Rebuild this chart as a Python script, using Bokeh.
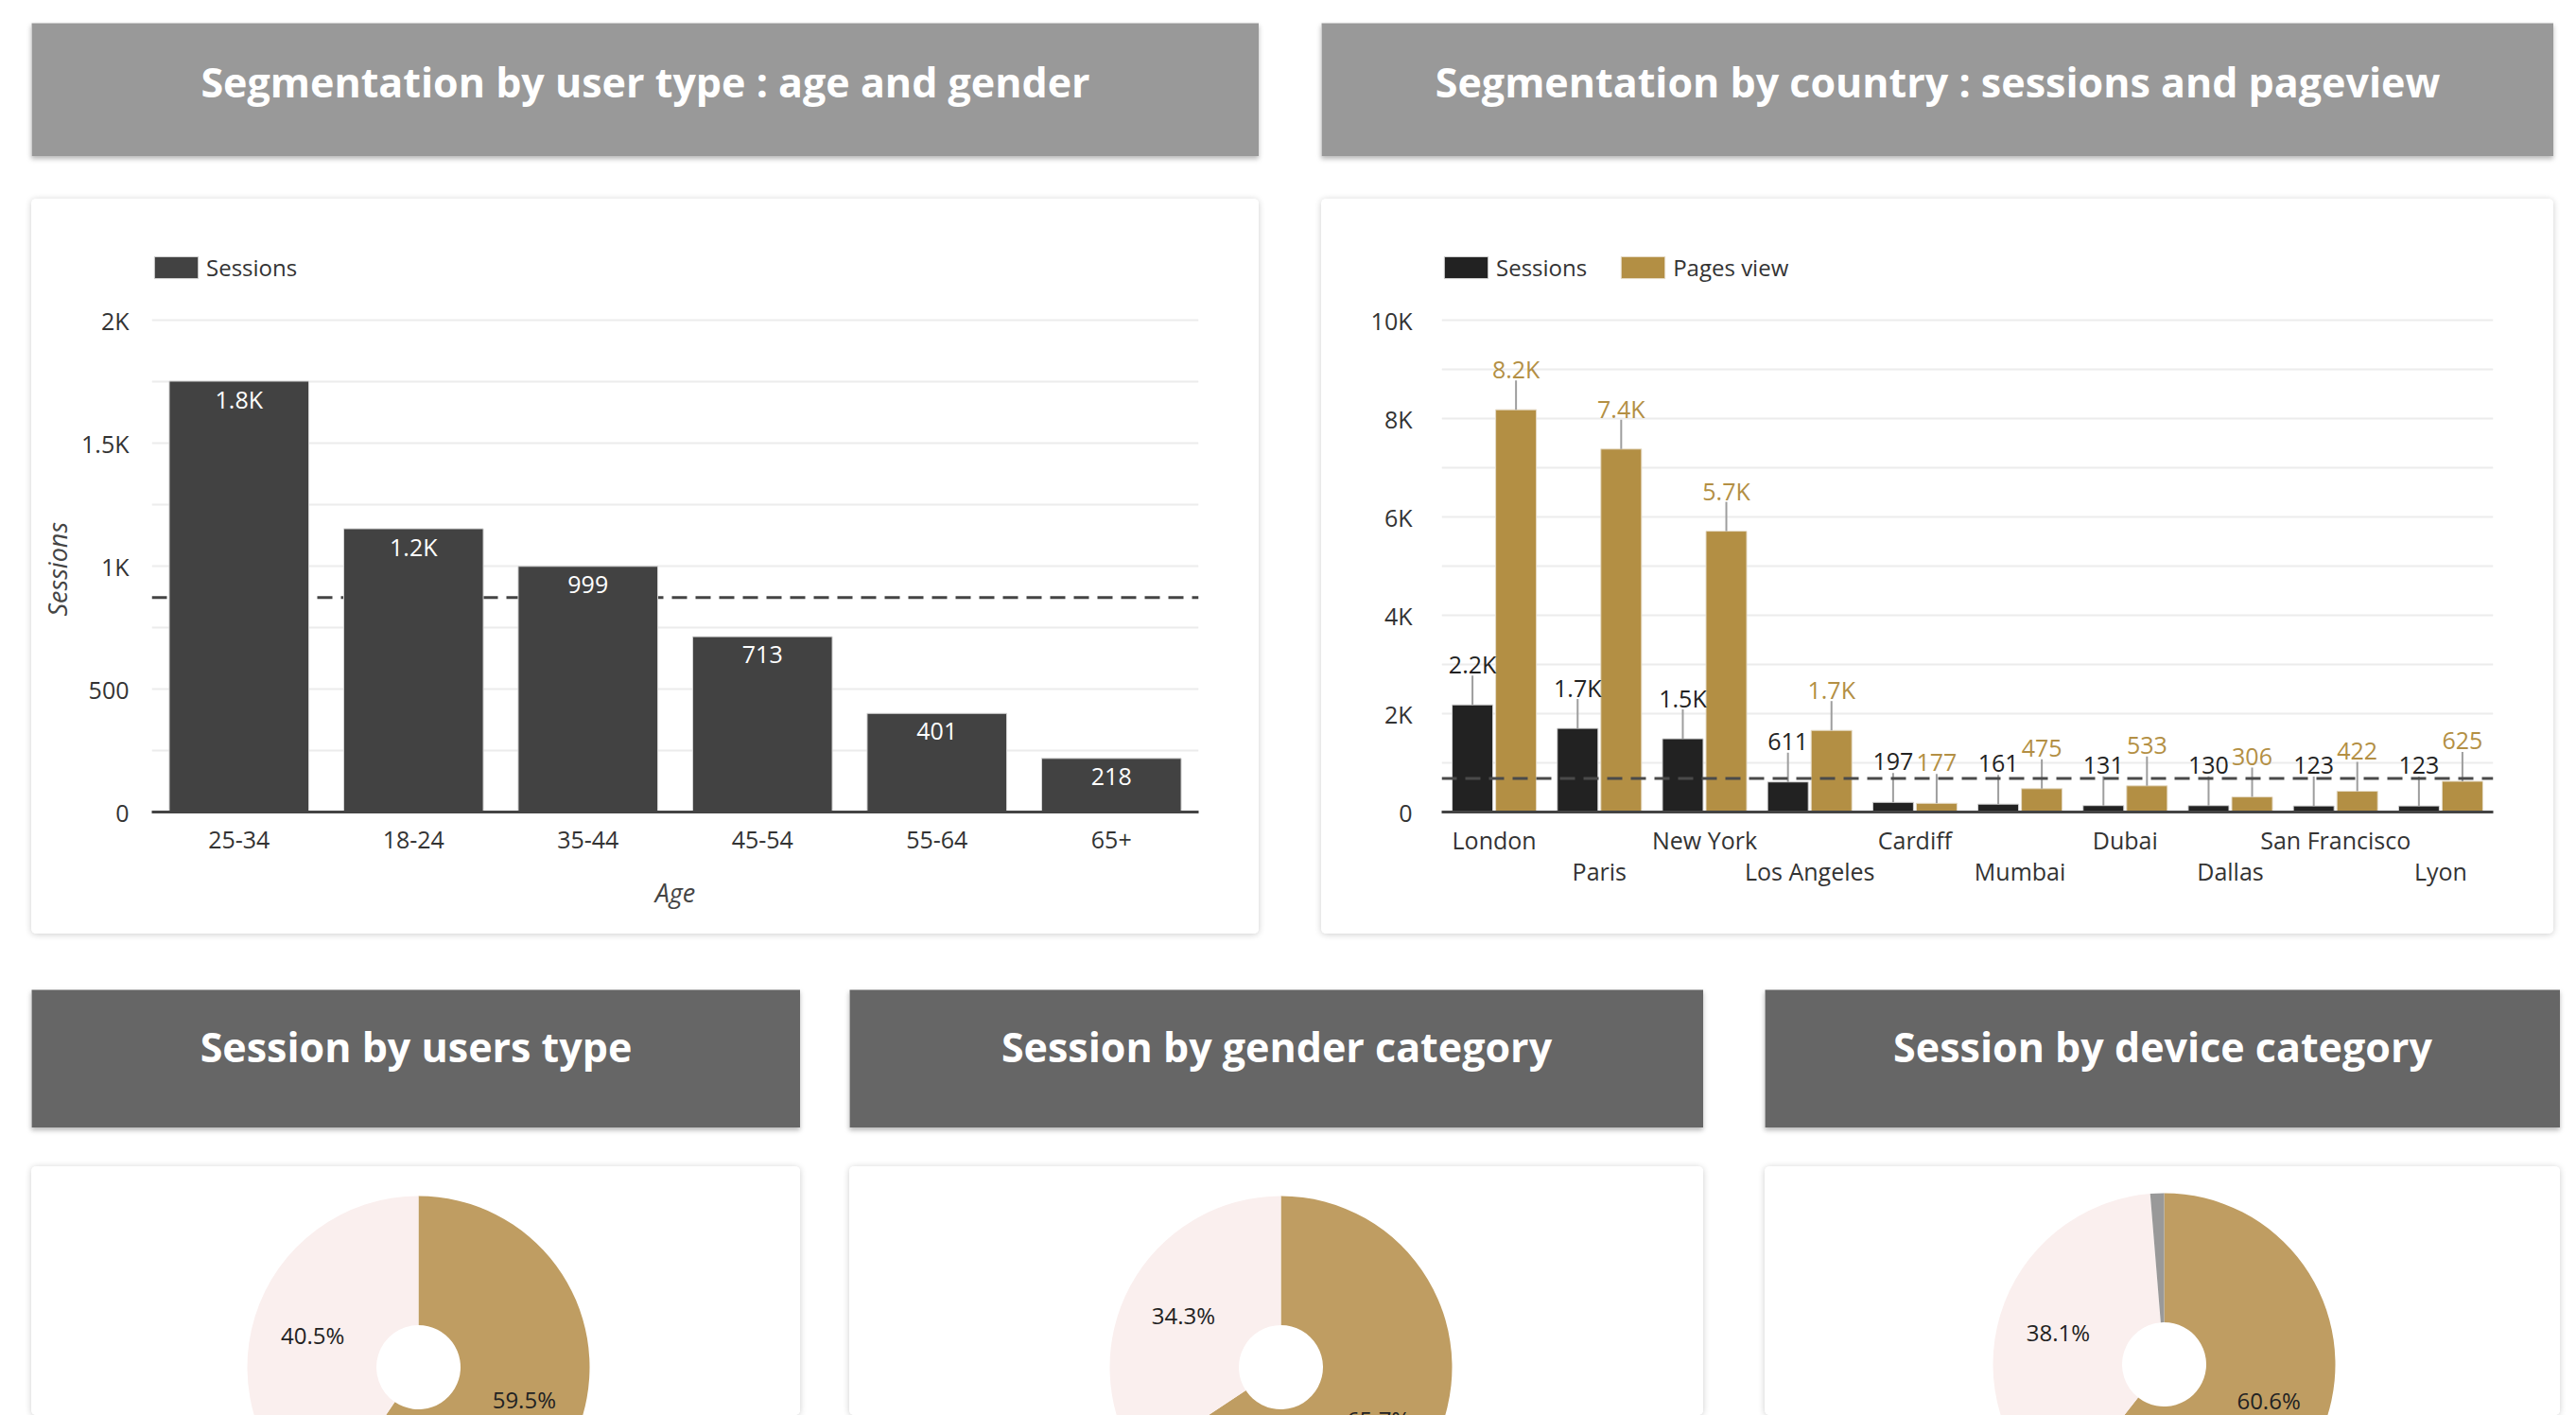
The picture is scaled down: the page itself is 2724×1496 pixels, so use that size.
import math

from bokeh.core.properties import value
from bokeh.embed import file_html
from bokeh.layouts import column, row
from bokeh.models import (CategoricalAxis, ColumnDataSource, CustomJSTickFormatter,
                          FactorRange, FixedTicker, Label, LabelSet, Legend, LegendItem,
                          Range1d, Span, Title)
from bokeh.plotting import figure
from bokeh.resources import INLINE
from bokeh.transform import dodge

# ---------------------------------------------------------------- data
age_groups = ["25-34", "18-24", "35-44", "45-54", "55-64", "65+"]
age_sessions = [1752, 1152, 999, 713, 401, 218]

cities = ["London", "Paris", "New York", "Los Angeles", "Cardiff",
          "Mumbai", "Dubai", "Dallas", "San Francisco", "Lyon"]
city_sessions = [2180, 1700, 1490, 611, 197, 161, 131, 130, 123, 123]
city_pageviews = [8180, 7380, 5710, 1660, 177, 475, 533, 306, 422, 625]

user_type_share = [59.5, 40.5]          # returning, new
gender_share = [65.7, 34.3]             # male, female
device_share = [60.6, 38.1, 1.3]        # desktop, mobile, tablet
slice_colors = ["#bf9d62", "#faefee", "#999999"]

# ---------------------------------------------------------------- style
FONT = "Open Sans"
TICK_SIZE = "25px"
DARK = "#424242"
SESS = "#222222"
GOLD = "#b38f44"
GRID = "#ececec"

CARD_STYLE = {"box-shadow": "0 1px 7px rgba(0,0,0,0.20)", "border-radius": "5px",
              "overflow": "hidden"}
HEAD_STYLE = {"box-shadow": "0 3px 5px rgba(0,0,0,0.28)"}

k_format = CustomJSTickFormatter(
    code="return tick >= 1000 ? (tick / 1000) + 'K' : tick.toString();")

# The plot area reaches 70 px above the top gridline so the legend row fits inside it.
FRAME_H = 590
HEADROOM = 590 / 520


def compact(v):
    return f"{v / 1000:.1f}K" if v >= 1000 else f"{v}"


def header(text, width, height, fill, lift):
    p = figure(width=width, height=height, x_range=Range1d(0, 1), y_range=Range1d(0, 1),
               output_backend="svg", toolbar_location=None, min_border=0,
               background_fill_color=fill, border_fill_color=fill, outline_line_color=None)
    p.axis.visible = False
    p.grid.visible = False
    p.add_layout(Label(x=0.5, y=0.5, y_offset=lift, text=text, text_align="center",
                       text_baseline="middle", text_color="white", text_font=FONT,
                       text_font_style="bold", text_font_size="43px"))
    p.styles = HEAD_STYLE
    return p


def style_axes(p):
    p.outline_line_color = None
    p.background_fill_color = "white"
    p.border_fill_color = "white"
    p.xgrid.visible = False
    p.ygrid.grid_line_color = GRID
    p.ygrid.grid_line_width = 2
    for ax in p.axis:
        ax.major_tick_line_color = None
        ax.minor_tick_line_color = None
        ax.major_label_text_font = FONT
        ax.major_label_text_font_size = TICK_SIZE
        ax.major_label_text_color = "#333333"
        ax.axis_label_text_font = FONT
        ax.axis_label_text_font_size = "27px"
        ax.axis_label_text_color = "#444444"
        ax.axis_label_text_font_style = "italic"
    p.yaxis.axis_line_color = None
    p.xaxis.axis_line_color = "#444444"
    p.xaxis.axis_line_width = 3


def top_legend(items):
    # legend row across the top of the plot area, swatches near its left edge
    return Legend(items=items, location=(-3, FRAME_H - 31), orientation="horizontal",
                  margin=0, padding=0, spacing=30, glyph_width=58, glyph_height=29,
                  label_height=29, label_standoff=3, label_text_font=FONT,
                  label_text_font_size="24px", label_text_color="#333333",
                  background_fill_alpha=0, border_line_alpha=0)


# ---------------------------------------------------------------- sessions by age
src_age = ColumnDataSource(dict(age=age_groups, sessions=age_sessions,
                                label=[compact(v) for v in age_sessions]))
p_age = figure(x_range=FactorRange(factors=age_groups),
               y_range=Range1d(0, 2000 * HEADROOM),
               width=1298, height=777, output_backend="svg", toolbar_location=None,
               min_border_left=127, min_border_right=64, min_border_top=58,
               min_border_bottom=129)
style_axes(p_age)
p_age.ygrid.ticker = FixedTicker(ticks=list(range(0, 2001, 250)))
p_age.yaxis.ticker = FixedTicker(ticks=list(range(0, 2001, 500)))
p_age.yaxis.formatter = k_format
p_age.yaxis.major_label_standoff = 18
p_age.xaxis.major_label_standoff = 14
p_age.xaxis.axis_label = "Age"
p_age.xaxis.axis_label_standoff = 25
# vertical axis caption, centred on the 0-2K span rather than on the whole plot area
p_age.add_layout(Title(text="Sessions", align="left", offset=207, standoff=8,
                       vertical_align="middle", text_font=FONT, text_font_size="27px",
                       text_font_style="italic", text_color="#444444"), "left")

mean_age = sum(age_sessions) / len(age_sessions)
p_age.add_layout(Span(location=mean_age, dimension="width", line_color="#444444",
                      line_width=3, line_dash="16 9", level="underlay"))
r_age = p_age.vbar(x="age", top="sessions", width=0.8, source=src_age,
                   fill_color=DARK, line_color="#d6d6d6", line_width=1)
p_age.add_layout(LabelSet(x="age", y="sessions", text="label", source=src_age,
                          y_offset=-19, text_align="center", text_baseline="middle",
                          text_color="white", text_font=value(FONT),
                          text_font_size=TICK_SIZE))
p_age.add_layout(top_legend([LegendItem(label="Sessions", renderers=[r_age])]))
p_age.styles = CARD_STYLE

# ---------------------------------------------------------------- sessions & pageviews by city
src_city = ColumnDataSource(dict(city=cities, sessions=city_sessions, pages=city_pageviews,
                                 s_label=[compact(v) for v in city_sessions],
                                 p_label=[compact(v) for v in city_pageviews]))
p_city = figure(x_range=FactorRange(factors=cities), y_range=Range1d(0, 10000 * HEADROOM),
                width=1303, height=777, output_backend="svg", toolbar_location=None,
                min_border_left=127, min_border_right=64, min_border_top=58,
                min_border_bottom=129)
style_axes(p_city)
p_city.ygrid.ticker = FixedTicker(ticks=list(range(0, 10001, 1000)))
p_city.yaxis.ticker = FixedTicker(ticks=list(range(0, 10001, 2000)))
p_city.yaxis.formatter = k_format
p_city.yaxis.major_label_standoff = 25

# city names alternate between two rows: even positions on the upper row,
# odd positions on a second axis underneath
p_city.xaxis.major_label_standoff = 6
p_city.xaxis.formatter = CustomJSTickFormatter(
    args=dict(keep=cities[0::2]), code="return keep.includes(tick) ? tick : '';")
lower_axis = CategoricalAxis(axis_line_color=None, major_tick_line_color=None,
                             minor_tick_line_color=None, major_label_standoff=-10,
                             major_label_text_font=FONT, major_label_text_font_size=TICK_SIZE,
                             major_label_text_color="#333333",
                             formatter=CustomJSTickFormatter(
                                 args=dict(keep=cities[1::2]),
                                 code="return keep.includes(tick) ? tick : '';"))
p_city.add_layout(lower_axis, "below")

x_sess = dodge("city", -0.207, range=p_city.x_range)
x_page = dodge("city", 0.207, range=p_city.x_range)
r_sess = p_city.vbar(x=x_sess, top="sessions", width=0.387, source=src_city,
                     fill_color=SESS, line_color="#d6d6d6", line_width=1)
r_page = p_city.vbar(x=x_page, top="pages", width=0.387, source=src_city,
                     fill_color=GOLD, line_color="#e6dcc8", line_width=1)
mean_city = sum(city_sessions) / len(city_sessions)
p_city.add_layout(Span(location=mean_city, dimension="width", line_color="#4a4a4a",
                       line_width=3, line_dash="16 9"))
for xs, field, lab, col in ((x_sess, "sessions", "s_label", "#222222"),
                            (x_page, "pages", "p_label", GOLD)):
    p_city.ray(x=xs, y=field, length=31, length_units="screen", angle=math.pi / 2,
               line_color="#9e9e9e", line_width=2, source=src_city)
    p_city.add_layout(LabelSet(x=xs, y=field, text=lab, source=src_city, y_offset=43,
                               text_align="center", text_baseline="middle",
                               text_color=col, text_font=value(FONT),
                               text_font_size=TICK_SIZE))
p_city.add_layout(top_legend([LegendItem(label="Sessions", renderers=[r_sess]),
                              LegendItem(label="Pages view", renderers=[r_page])]))
p_city.styles = CARD_STYLE


# ---------------------------------------------------------------- donuts
def donut(shares, width, height, cx, cy):
    """Donut centred cx px from the left edge and cy px from the top edge."""
    p = figure(width=width, height=height, x_range=Range1d(-cx, width - cx),
               y_range=Range1d(cy - height, cy), output_backend="svg",
               toolbar_location=None, min_border=0, outline_line_color=None,
               background_fill_color="white", border_fill_color="white")
    p.axis.visible = False
    p.grid.visible = False
    starts, ends, mids = [], [], []
    cum = 0.0
    for s in shares:
        a0 = math.pi / 2 - cum / 100 * 2 * math.pi
        cum += s
        a1 = math.pi / 2 - cum / 100 * 2 * math.pi
        starts.append(a0)
        ends.append(a1)
        mids.append((a0 + a1) / 2)
    src = ColumnDataSource(dict(start=starts, end=ends, color=slice_colors[:len(shares)]))
    p.annular_wedge(x=0, y=0, inner_radius=44.5, outer_radius=181, start_angle="start",
                    end_angle="end", direction="clock", fill_color="color",
                    line_color=None, source=src)
    shown = [(s, m) for s, m in zip(shares, mids) if s >= 5]
    lab = ColumnDataSource(dict(x=[117 * math.cos(m) for _, m in shown],
                                y=[117 * math.sin(m) for _, m in shown],
                                t=[f"{s}%" for s, _ in shown]))
    p.text(x="x", y="y", text="t", source=lab, text_align="center", text_baseline="middle",
           text_color="#222222", text_font=value(FONT), text_font_size="24px")
    p.styles = CARD_STYLE
    return p


# ---------------------------------------------------------------- page
h_age = header("Segmentation by user type : age and gender", 1298, 141, "#999999", 9)
h_city = header("Segmentation by country : sessions and pageview", 1303, 141, "#999999", 9)
h_user = header("Session by users type", 813, 146, "#666666", 13)
h_gender = header("Session by gender category", 903, 146, "#666666", 13)
h_device = header("Session by device category", 841, 146, "#666666", 13)

d_user = donut(user_type_share, 813, 263, 409, 212)
d_gender = donut(gender_share, 903, 263, 456, 212)
d_device = donut(device_share, 841, 263, 422, 209)

h_age.margin = (24, 0, 0, 33)
h_city.margin = (24, 0, 0, 66)
p_age.margin = (45, 0, 0, 33)
p_city.margin = (45, 0, 0, 66)
h_user.margin = (59, 0, 0, 33)
h_gender.margin = (59, 0, 0, 52)
h_device.margin = (59, 0, 0, 65)
d_user.margin = (41, 0, 0, 33)
d_gender.margin = (41, 0, 0, 52)
d_device.margin = (41, 0, 0, 65)

page = column(row(h_age, h_city), row(p_age, p_city),
              row(h_user, h_gender, h_device), row(d_user, d_gender, d_device))

with open("out.html", "w") as f:
    f.write(file_html(page, INLINE, title="Audience dashboard"))
